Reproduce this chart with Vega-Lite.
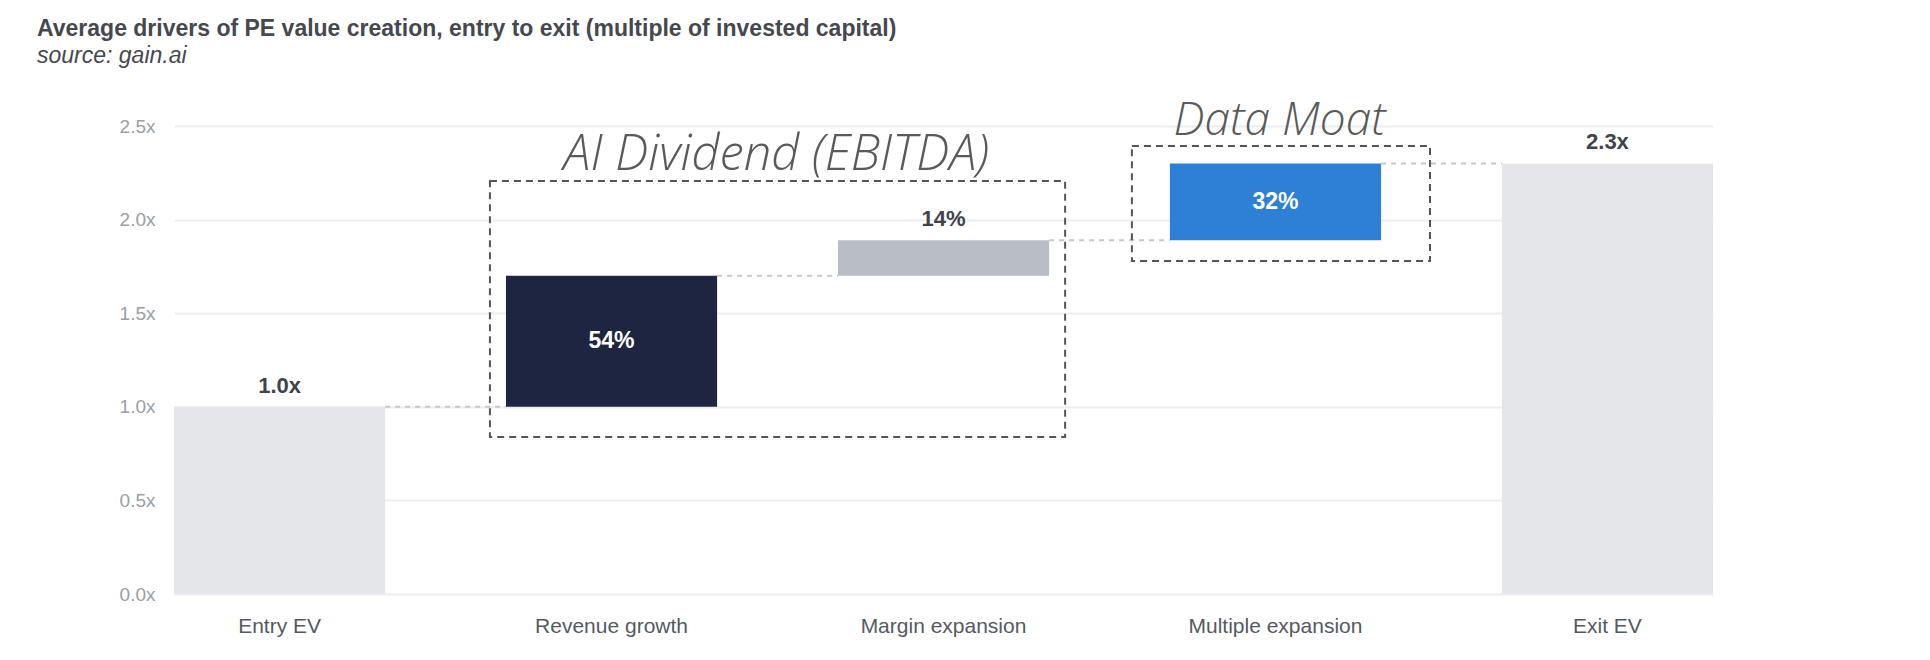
{
  "$schema": "https://vega.github.io/schema/vega-lite/v6.json",
  "autosize": {"type": "none"},
  "padding": {"left": 174, "top": 126, "right": 217, "bottom": 66},
  "width": 1539,
  "height": 468,
  "background": "white",
  "title": {
    "text": "Average drivers of PE value creation, entry to exit (multiple of invested capital)",
    "subtitle": "source: gain.ai",
    "anchor": "start",
    "frame": "group",
    "dx": -137,
    "offset": 30,
    "font": "Liberation Sans",
    "fontSize": 23,
    "fontWeight": "bold",
    "color": "#45484f",
    "subtitleFont": "Liberation Sans",
    "subtitleFontSize": 23,
    "subtitleFontStyle": "italic",
    "subtitleColor": "#45484f",
    "subtitlePadding": 4
  },
  "datasets": {
    "bars": [
      {"cat": "Entry EV", "start": 0, "end": 1.0, "label": "1.0x"},
      {"cat": "Revenue growth", "start": 1.0, "end": 1.7, "label": "54%"},
      {"cat": "Margin expansion", "start": 1.7, "end": 1.89, "label": "14%"},
      {"cat": "Multiple expansion", "start": 1.89, "end": 2.3, "label": "32%"},
      {"cat": "Exit EV", "start": 0, "end": 2.3, "label": "2.3x"}
    ],
    "links": [
      {"from": "Entry EV", "to": "Revenue growth", "level": 1.0},
      {"from": "Revenue growth", "to": "Margin expansion", "level": 1.7},
      {"from": "Margin expansion", "to": "Multiple expansion", "level": 1.89},
      {"from": "Multiple expansion", "to": "Exit EV", "level": 2.3}
    ]
  },
  "layer": [
    {
      "data": {"name": "bars"},
      "mark": {"type": "bar"},
      "encoding": {
        "x": {
          "field": "cat",
          "type": "nominal",
          "title": null,
          "scale": {
            "domain": ["Entry EV", "Revenue growth", "Margin expansion", "Multiple expansion", "Exit EV"],
            "paddingInner": 0.364,
            "paddingOuter": 0
          },
          "axis": {
            "labelAngle": 0,
            "domain": false,
            "ticks": false,
            "labelFont": "Liberation Sans",
            "labelFontSize": 21,
            "labelColor": "#555a62",
            "labelPadding": 21
          }
        },
        "y": {
          "field": "start",
          "type": "quantitative",
          "title": null,
          "scale": {"domain": [0, 2.5], "nice": false},
          "axis": {
            "values": [0, 0.5, 1, 1.5, 2, 2.5],
            "format": ".1f",
            "labelExpr": "datum.label + 'x'",
            "domain": false,
            "ticks": false,
            "labelFont": "Liberation Sans",
            "labelFontSize": 19,
            "labelColor": "#9a9ea6",
            "labelPadding": 19,
            "gridColor": "#eceef1",
            "gridWidth": 2
          }
        },
        "y2": {"field": "end"},
        "color": {
          "field": "cat",
          "type": "nominal",
          "legend": null,
          "scale": {
            "domain": ["Entry EV", "Revenue growth", "Margin expansion", "Multiple expansion", "Exit EV"],
            "range": ["#e5e6ea", "#1e2541", "#b9bdc6", "#2e7fd6", "#e5e6ea"]
          }
        }
      }
    },
    {
      "data": {"name": "links"},
      "mark": {"type": "rule", "color": "#c5c8ce", "strokeWidth": 2, "strokeDash": [5, 5]},
      "encoding": {
        "x": {"field": "from", "type": "nominal", "title": null, "bandPosition": 1},
        "x2": {"field": "to", "bandPosition": 0},
        "y": {"field": "level", "type": "quantitative", "title": null}
      }
    },
    {
      "data": {"values": [{"c1": "Revenue growth", "c2": "Margin expansion", "top": 2.206, "bottom": 0.839}]},
      "mark": {"type": "rect", "fill": null, "stroke": "#555555", "strokeWidth": 2, "strokeDash": [7, 5]},
      "encoding": {
        "x": {"field": "c1", "type": "nominal", "title": null, "bandPosition": -0.076},
        "x2": {"field": "c2", "bandPosition": 1.076},
        "y": {"field": "top", "type": "quantitative", "title": null},
        "y2": {"field": "bottom"}
      }
    },
    {
      "data": {"values": [{"c1": "Multiple expansion", "c2": "Multiple expansion", "top": 2.393, "bottom": 1.779}]},
      "mark": {"type": "rect", "fill": null, "stroke": "#555555", "strokeWidth": 2, "strokeDash": [7, 5]},
      "encoding": {
        "x": {"field": "c1", "type": "nominal", "title": null, "bandPosition": -0.18},
        "x2": {"field": "c2", "bandPosition": 1.232},
        "y": {"field": "top", "type": "quantitative", "title": null},
        "y2": {"field": "bottom"}
      }
    },
    {
      "data": {"name": "bars"},
      "transform": [{"filter": "datum.cat == 'Entry EV' || datum.cat == 'Margin expansion' || datum.cat == 'Exit EV'"}],
      "mark": {"type": "text", "font": "Liberation Sans", "fontSize": 22, "fontWeight": "bold", "color": "#3f434b", "baseline": "alphabetic", "dy": -14},
      "encoding": {
        "x": {"field": "cat", "type": "nominal", "title": null},
        "y": {"field": "end", "type": "quantitative", "title": null},
        "text": {"field": "label"}
      }
    },
    {
      "data": {"name": "bars"},
      "transform": [
        {"filter": "datum.cat == 'Revenue growth' || datum.cat == 'Multiple expansion'"},
        {"calculate": "(datum.start + datum.end) / 2", "as": "mid"}
      ],
      "mark": {"type": "text", "font": "Liberation Sans", "fontSize": 23, "fontWeight": "bold", "color": "white", "baseline": "middle"},
      "encoding": {
        "x": {"field": "cat", "type": "nominal", "title": null},
        "y": {"field": "mid", "type": "quantitative", "title": null},
        "text": {"field": "label"}
      }
    },
    {
      "data": {"values": [{"cat": "Revenue growth", "note": "AI Dividend (EBITDA)", "at": 2.265}]},
      "mark": {"type": "text", "font": "Open Sans", "fontSize": 49, "fontWeight": 300, "fontStyle": "italic", "color": "#5a5a5a", "baseline": "alphabetic", "align": "center"},
      "encoding": {
        "x": {"field": "cat", "type": "nominal", "title": null, "bandPosition": 1.28},
        "y": {"field": "at", "type": "quantitative", "title": null},
        "text": {"field": "note"}
      }
    },
    {
      "data": {"values": [{"cat": "Multiple expansion", "note": "Data Moat", "at": 2.452}]},
      "mark": {"type": "text", "font": "Open Sans", "fontSize": 46, "fontWeight": 300, "fontStyle": "italic", "color": "#5a5a5a", "baseline": "alphabetic", "align": "center"},
      "encoding": {
        "x": {"field": "cat", "type": "nominal", "title": null, "bandPosition": 0.52},
        "y": {"field": "at", "type": "quantitative", "title": null},
        "text": {"field": "note"}
      }
    }
  ],
  "config": {
    "view": {"stroke": null}
  }
}
